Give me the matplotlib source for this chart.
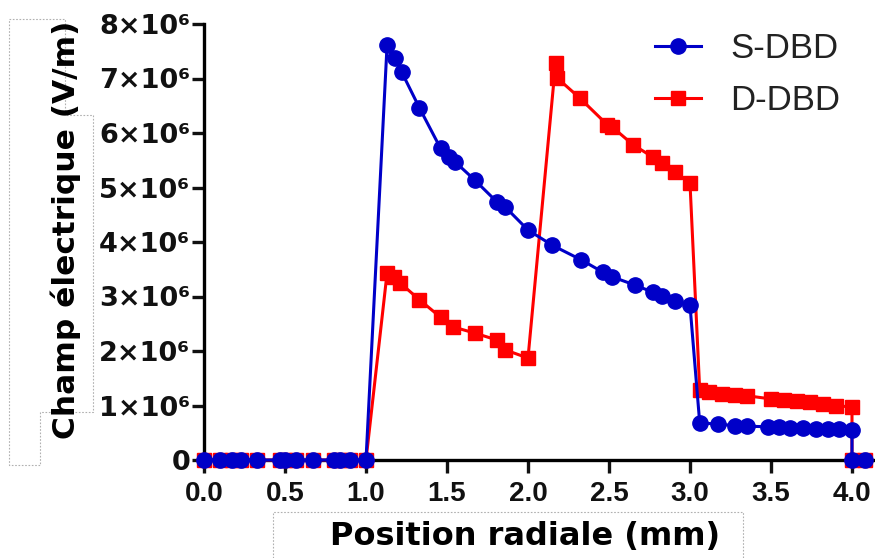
import matplotlib
matplotlib.use("Agg")
import matplotlib.pyplot as plt
from matplotlib.lines import Line2D

# ---- data (x in mm, y in units of 1e6 V/m) ----
zero_x = [0.0, 0.1, 0.17, 0.23, 0.33, 0.47, 0.5, 0.57, 0.67, 0.8, 0.84, 0.9, 1.0]

s_x = zero_x + [1.13, 1.18, 1.22, 1.33, 1.46, 1.51, 1.55, 1.67, 1.81, 1.86, 2.0,
                2.15, 2.33, 2.46, 2.52, 2.66, 2.77, 2.83, 2.91, 3.0,
                3.06, 3.17, 3.28, 3.35, 3.48, 3.55, 3.62, 3.7, 3.78, 3.85, 3.92, 4.0,
                4.0, 4.08]
s_y = [0.0] * len(zero_x) + [7.61, 7.38, 7.12, 6.46, 5.72, 5.56, 5.47, 5.14, 4.73, 4.64, 4.22,
                             3.94, 3.67, 3.45, 3.36, 3.21, 3.08, 3.01, 2.92, 2.84,
                             0.68, 0.66, 0.63, 0.62, 0.61, 0.60, 0.59, 0.58, 0.575, 0.565, 0.56, 0.55,
                             0.0, 0.0]

d_x = zero_x + [1.13, 1.17, 1.21, 1.33, 1.46, 1.54, 1.67, 1.81, 1.86, 2.0,
                2.17, 2.18, 2.32, 2.49, 2.52, 2.65, 2.77, 2.83, 2.91, 3.0,
                3.06, 3.12, 3.2, 3.28, 3.35, 3.5, 3.58, 3.66, 3.74, 3.82, 3.9, 4.0,
                4.0, 4.08]
d_y = [0.0] * len(zero_x) + [3.43, 3.35, 3.25, 2.94, 2.62, 2.44, 2.33, 2.20, 2.02, 1.87,
                             7.28, 7.01, 6.64, 6.15, 6.11, 5.78, 5.56, 5.45, 5.28, 5.08,
                             1.28, 1.25, 1.22, 1.20, 1.18, 1.12, 1.10, 1.08, 1.06, 1.03, 1.00, 0.97,
                             0.0, 0.0]

series_labels = ["S-DBD", "D-DBD"]
x_ticks = [0.0, 0.5, 1.0, 1.5, 2.0, 2.5, 3.0, 3.5, 4.0]
y_ticks = [0, 1, 2, 3, 4, 5, 6, 7, 8]
y_tick_labels = ["0"] + [f"{v}×10⁶" for v in y_ticks[1:]]
x_label = "Position radiale (mm)"
y_label = "Champ électrique (V/m)"

BLUE = "#0000C8"
RED = "#FF0000"

fig = plt.figure(figsize=(8.75, 5.58), dpi=100)
ax = fig.add_axes([204 / 875, 1 - 460 / 558, 1 - 204 / 875, (460 - 24) / 558])

scale = 1e6
ax.plot(d_x, [v * scale for v in d_y], color=RED, marker="s", markersize=10.5,
        linewidth=2.2, clip_on=False, zorder=3, label=series_labels[1])
ax.plot(s_x, [v * scale for v in s_y], color=BLUE, marker="o", markersize=11,
        linewidth=2.2, clip_on=False, zorder=4, label=series_labels[0])

ax.set_xlim(0, 4.142)
ax.set_ylim(0, 8e6)

for side in ["top", "right"]:
    ax.spines[side].set_visible(False)
for side in ["left", "bottom"]:
    ax.spines[side].set_linewidth(2.4)
    ax.spines[side].set_zorder(2)

ax.set_xticks(x_ticks)
ax.set_xticklabels([f"{v:.1f}" for v in x_ticks], family=["Liberation Sans", "DejaVu Sans"],
                   fontweight="bold", fontsize=20, color="#111111")
ax.set_yticks([v * scale for v in y_ticks])
ax.set_yticklabels(y_tick_labels, family=["DejaVu Sans"], fontweight="bold", fontsize=19.5,
                   color="#111111")
ax.tick_params(axis="both", direction="out", length=9, width=2.4, color="#111111")
ax.tick_params(axis="x", pad=6)
ax.tick_params(axis="y", pad=1)

# axis titles
fig.text(66 / 875, 1 - 230 / 558, y_label, rotation=90, ha="center", va="center",
         fontsize=22.5, fontweight="bold", family="DejaVu Sans", color="black")
fig.text(525 / 875, 1 - 537 / 558, x_label, ha="center", va="center",
         fontsize=23, fontweight="bold", family="DejaVu Sans", color="black")

# faint dotted boxes around axis titles
def fig_line(xs, ys):
    fig.add_artist(Line2D([x / 875 for x in xs], [1 - y / 558 for y in ys],
                          transform=fig.transFigure, color="#b0b0b0", lw=0.8,
                          linestyle=(0, (1.5, 1.5))))

fig_line([9, 65, 65, 93, 93, 40, 40, 9, 9], [19, 19, 115, 115, 412, 412, 465, 465, 19])
fig_line([273, 273, 743, 743], [558, 512, 512, 558])

# legend
leg = ax.legend(handles=[ax.lines[1], ax.lines[0]], labels=series_labels,
                loc="upper left", bbox_to_anchor=(655 / 875, 1 - 32 / 558),
                bbox_transform=fig.transFigure, frameon=False,
                prop={"family": ["Liberation Sans", "DejaVu Sans"], "size": 25},
                handlelength=1.33, handletextpad=0.84, labelspacing=0.56,
                borderpad=0, borderaxespad=0)
for t in leg.get_texts():
    t.set_color("#222222")

fig.savefig("out.png", dpi=100)
